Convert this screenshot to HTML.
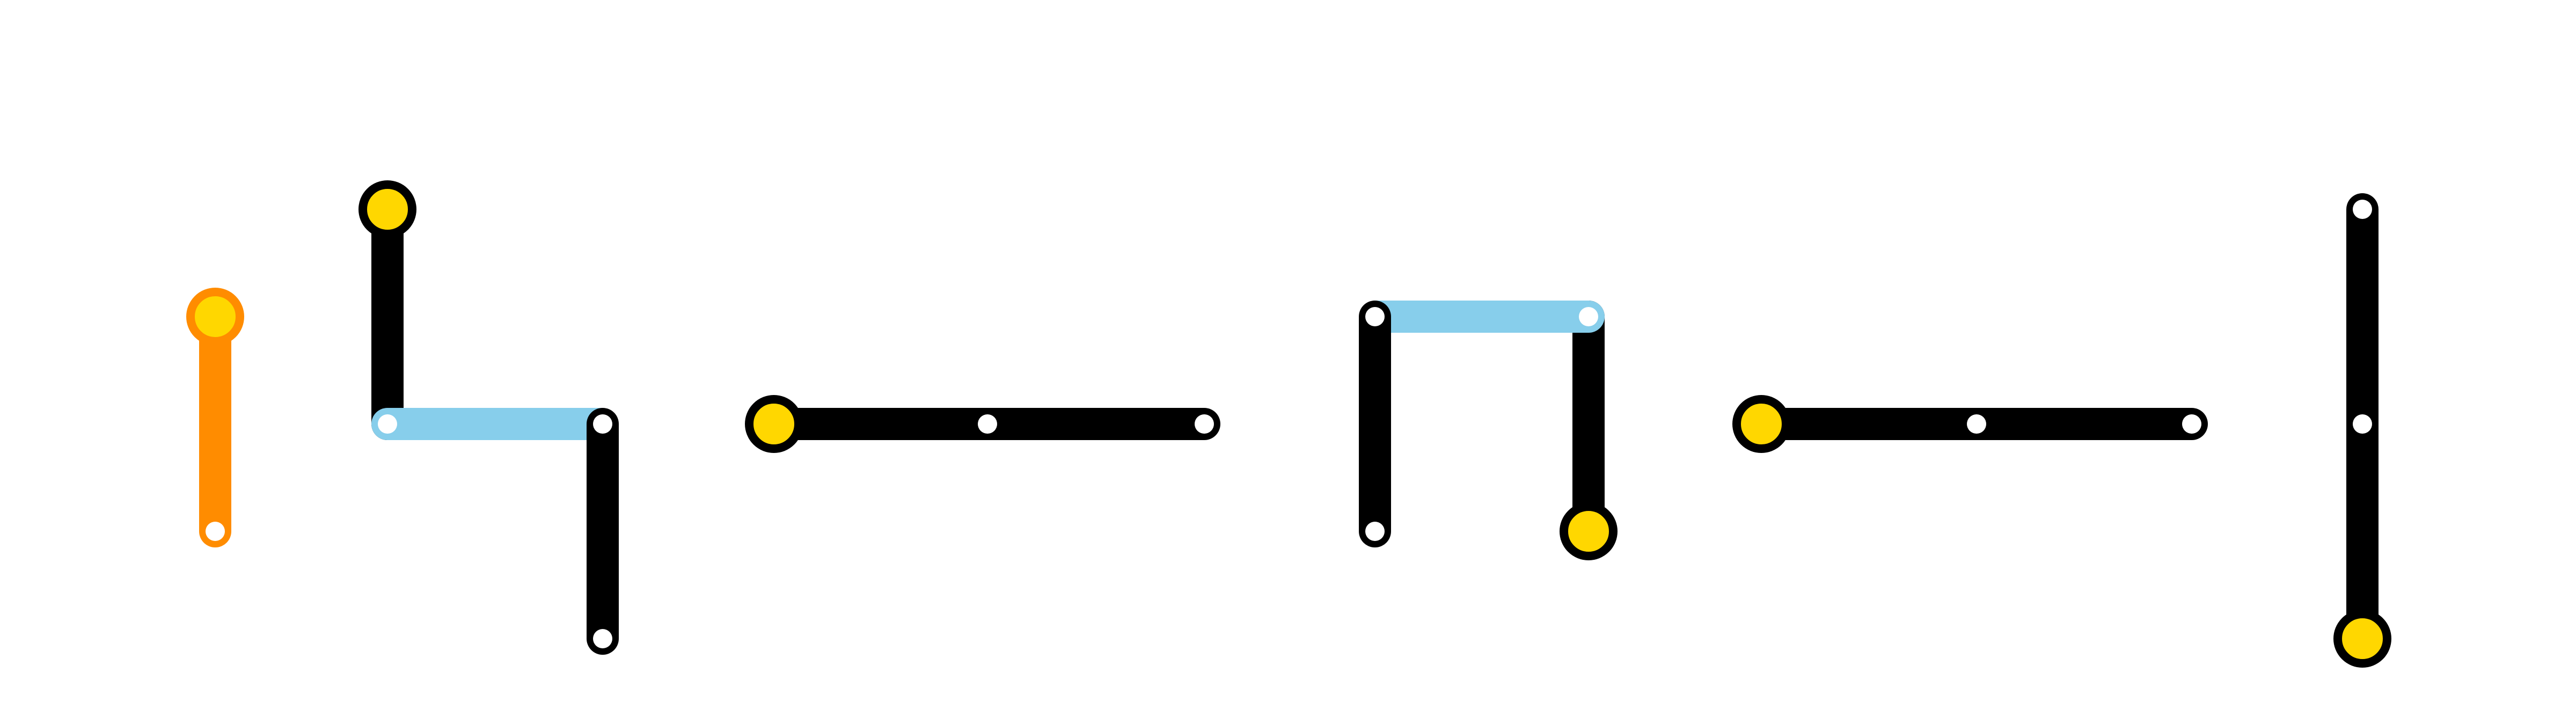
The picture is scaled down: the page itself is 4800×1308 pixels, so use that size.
<!DOCTYPE html>
<html><head><meta charset="utf-8"><style>html,body{margin:0;padding:0;background:#fff}svg{display:block}</style></head>
<body>
<svg width="4800" height="1308" viewBox="0 0 4800 1308" xmlns="http://www.w3.org/2000/svg">
<g fill="none" stroke-linecap="round" stroke-width="60">
  <line x1="401" y1="590" x2="401" y2="990" stroke="#ff8c00"/>
  <line x1="722" y1="390" x2="722" y2="790" stroke="#000"/>
  <line x1="722" y1="790" x2="1123" y2="790" stroke="#87ceeb" stroke-linecap="butt"/>
  <circle cx="722" cy="790" r="30" fill="#87ceeb" stroke="none"/>
  <line x1="1123" y1="790" x2="1123" y2="1190" stroke="#000"/>
  <line x1="1442" y1="790" x2="2244" y2="790" stroke="#000"/>
  <line x1="2960" y1="590" x2="2960" y2="990" stroke="#000"/>
  <line x1="2562" y1="590" x2="2960" y2="590" stroke="#87ceeb" stroke-linecap="butt"/>
  <circle cx="2960" cy="590" r="30" fill="#87ceeb" stroke="none"/>
  <line x1="2562" y1="590" x2="2562" y2="990" stroke="#000"/>
  <line x1="3282" y1="790" x2="4084" y2="790" stroke="#000"/>
  <line x1="4402" y1="390" x2="4402" y2="1190" stroke="#000"/>
</g>
<g fill="#fff">
  <circle cx="401" cy="990" r="18"/>
  <circle cx="722" cy="790" r="18"/>
  <circle cx="1123" cy="790" r="18"/>
  <circle cx="1123" cy="1190" r="18"/>
  <circle cx="1840" cy="790" r="18"/>
  <circle cx="2244" cy="790" r="18"/>
  <circle cx="2562" cy="590" r="18"/>
  <circle cx="2562" cy="990" r="18"/>
  <circle cx="2960" cy="590" r="18"/>
  <circle cx="3683" cy="790" r="18"/>
  <circle cx="4084" cy="790" r="18"/>
  <circle cx="4402" cy="390" r="18"/>
  <circle cx="4402" cy="790" r="18"/>
</g>
<g fill="#ffd700" stroke-width="16">
  <circle cx="401" cy="590" r="46" stroke="#ff8c00"/>
  <circle cx="722" cy="390" r="46" stroke="#000"/>
  <circle cx="1442" cy="790" r="46" stroke="#000"/>
  <circle cx="2960" cy="990" r="46" stroke="#000"/>
  <circle cx="3282" cy="790" r="46" stroke="#000"/>
  <circle cx="4402" cy="1190" r="46" stroke="#000"/>
</g>
</svg>
</body></html>
